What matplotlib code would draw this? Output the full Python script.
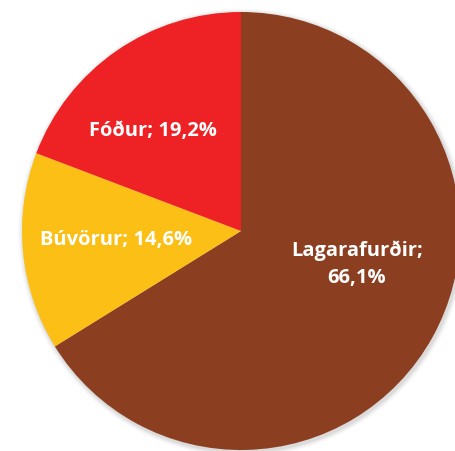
import matplotlib
matplotlib.use("Agg")
import matplotlib.pyplot as plt
from matplotlib.patches import Circle

# data
categories = ["Lagarafurðir", "Búvörur", "Fóður"]
shares = [66.1, 14.6, 19.2]
colors = ["#8C3F20", "#FBBF15", "#EE2224"]

W, H = 456, 452
CX, CY, R = 241, 232, 219   # pie centre / radius in pixels


def px(x, y):
    """pixel (from top-left) -> data coords, pie radius = 1"""
    return (x - CX) / R, (CY - y) / R


fig = plt.figure(figsize=(W / 100, H / 100), dpi=100)
ax = fig.add_axes([0, 0, 1, 1])

# soft shadow
for i, a in enumerate([0.05, 0.04, 0.03, 0.02]):
    ax.add_patch(Circle((0.006, -0.008), 1.0 + 0.006 * (i + 1),
                        color="black", alpha=a, lw=0, zorder=0))

ax.pie(shares, colors=colors, startangle=90, counterclock=False,
       radius=1.0, center=(0, 0), frame=True,
       wedgeprops=dict(linewidth=0, zorder=2))
ax.set_xlim(-CX / R, (W - CX) / R)
ax.set_ylim(-(H - CY) / R, CY / R)
ax.set_aspect("equal")
ax.axis("off")

fmt = lambda v: f"{v:.1f}".replace(".", ",") + "%"
lab_style = dict(color="white", fontweight="bold", fontsize=14.5,
                 family="Open Sans", ha="center", va="center", zorder=5)
ax.text(*px(153, 131), f"{categories[2]}; {fmt(shares[2])}", **lab_style)
ax.text(*px(116, 240), f"{categories[1]}; {fmt(shares[1])}", **lab_style)
ax.text(*px(357, 264), f"{categories[0]};\n{fmt(shares[0])}",
        linespacing=1.45, **lab_style)

fig.savefig("out.png", dpi=100)
